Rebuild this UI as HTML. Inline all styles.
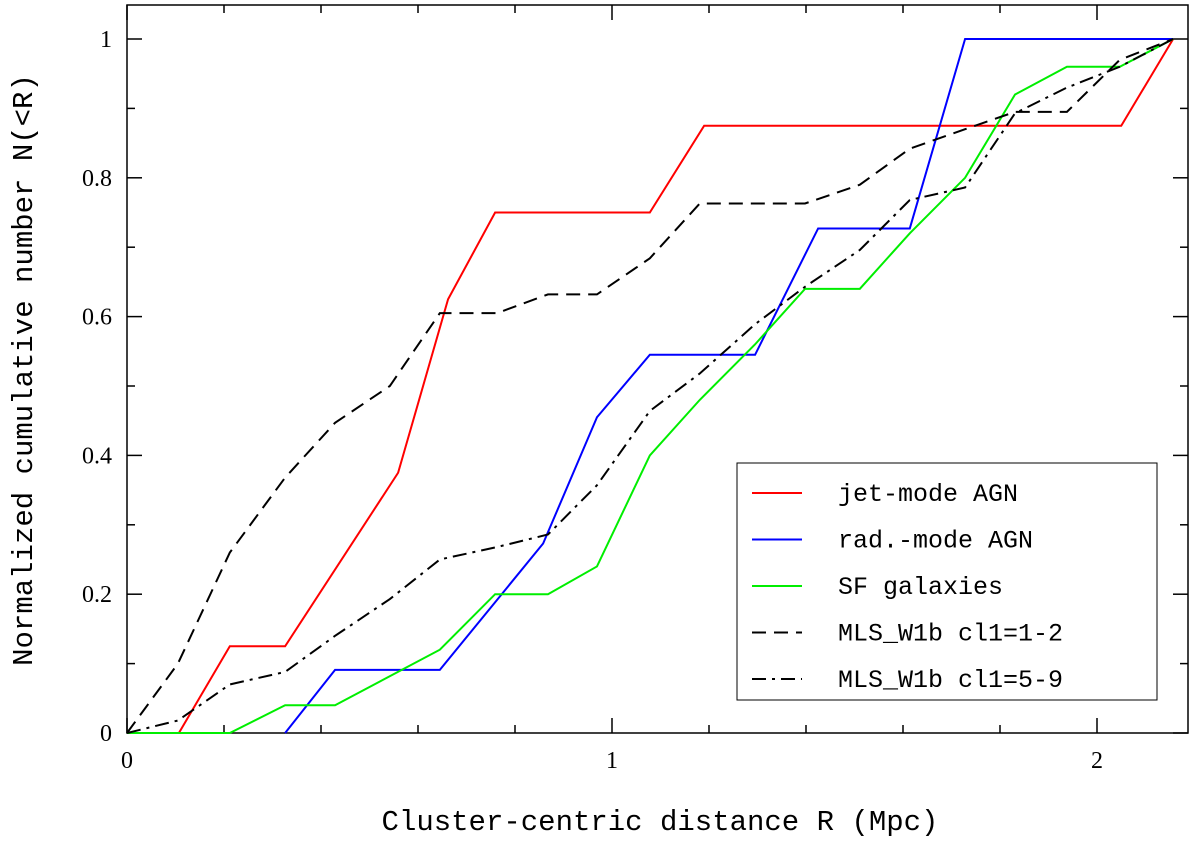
<!DOCTYPE html>
<html><head><meta charset="utf-8"><style>body{margin:0;background:#fff}svg{display:block}</style></head>
<body>
<svg id="chart" width="1200" height="844" xmlns="http://www.w3.org/2000/svg"></svg>
<script>
const xTicks=[0,1,2];
const yTicks=[0,0.2,0.4,0.6,0.8,1];
const yTickLabels=["0","0.2","0.4","0.6","0.8","1"];
const jetX=[0.107,0.212,0.326,0.559,0.662,0.759,1.078,1.19,2.05,2.157];
const jetY=[0,0.125,0.125,0.375,0.625,0.75,0.75,0.875,0.875,1];
const radX=[0.326,0.429,0.645,0.858,0.969,1.078,1.295,1.425,1.614,1.728,2.157];
const radY=[0,0.091,0.091,0.273,0.455,0.545,0.545,0.727,0.727,1,1];
const sfX=[0,0.212,0.326,0.429,0.645,0.759,0.868,0.969,1.078,1.181,1.295,1.398,1.511,1.614,1.728,1.831,1.938,2.047,2.157];
const sfY=[0,0,0.04,0.04,0.12,0.2,0.2,0.24,0.4,0.48,0.56,0.64,0.64,0.72,0.8,0.92,0.96,0.96,1];
const cl12X=[0,0.105,0.212,0.326,0.429,0.542,0.645,0.763,0.868,0.969,1.078,1.181,1.398,1.511,1.614,1.728,1.831,1.938,2.047,2.157];
const cl12Y=[0,0.10,0.26,0.368,0.447,0.5,0.605,0.605,0.632,0.632,0.684,0.763,0.763,0.79,0.842,0.87,0.895,0.895,0.97,1];
const cl59X=[0,0.105,0.212,0.326,0.429,0.542,0.645,0.763,0.868,0.969,1.078,1.181,1.295,1.398,1.511,1.614,1.728,1.831,1.938,2.047,2.157];
const cl59Y=[0,0.018,0.07,0.088,0.14,0.193,0.25,0.268,0.286,0.357,0.464,0.518,0.589,0.643,0.696,0.768,0.786,0.893,0.93,0.96,1];
const L=127,R=1188,T=5,B=733;
const sx=v=>127+v*485, sy=v=>733-v*694;
const svg=document.getElementById('chart');const NS='http://www.w3.org/2000/svg';
function mk(t,a,p){const e=document.createElementNS(NS,t);for(const k in a)e.setAttribute(k,a[k]);(p||svg).appendChild(e);return e;}
const frame=mk('rect',{x:L,y:T,width:R-L,height:B-T,fill:'none',stroke:'#000','stroke-width':1.5});


const tg=mk('g',{stroke:'#000','stroke-width':1.5});


for(let i=0;i<=21;i++){const v=i*0.1;const x=sx(v);const len=(i%10==0)?15:(i%2==0?8:0);if(!len)continue;mk('line',{x1:x,y1:B,x2:x,y2:B-len},tg);mk('line',{x1:x,y1:T,x2:x,y2:T+len},tg);}
for(let i=0;i<=10;i++){const y=sy(i*0.1);const len=i%2==0?15:8;mk('line',{x1:L,y1:y,x2:L+len,y2:y},tg);mk('line',{x1:R,y1:y,x2:R-len,y2:y},tg);}
xTicks.forEach(v=>{const t=mk('text',{x:sx(v),y:768,'text-anchor':'middle','font-family':'Liberation Serif, serif','font-size':24});t.textContent=v;

});
yTicks.forEach((v,i)=>{const t=mk('text',{x:112,y:sy(v)+8,'text-anchor':'end','font-family':'Liberation Serif, serif','font-size':24});t.textContent=yTickLabels[i];

});
const xt=mk('text',{x:660,y:830,'text-anchor':'middle','font-family':'Liberation Mono, monospace','font-size':29});xt.textContent='Cluster-centric distance R (Mpc)';


const yt=mk('text',{x:0,y:0,'text-anchor':'middle','font-family':'Liberation Mono, monospace','font-size':29,transform:'translate(32,370) rotate(-90)'});yt.textContent='Normalized cumulative number N(<R)';


const series=[[jetX,jetY,'#f00','none','series-jet-mode-agn'],[radX,radY,'#00f','none','series-rad-mode-agn'],[sfX,sfY,'#0e0','none','series-sf-galaxies'],[cl12X,cl12Y,'#000','14 8','series-cl1-1-2'],[cl59X,cl59Y,'#000','14 6 3 6','series-cl1-5-9']];
series.forEach(s=>{const p=mk('polyline',{points:s[0].map((x,i)=>sx(x)+','+sy(s[1][i])).join(' '),fill:'none',stroke:s[2],'stroke-width':2,'stroke-dasharray':s[3]});

});
const lg=mk('g',{});


mk('rect',{x:737,y:463,width:420,height:237,fill:'#fff',stroke:'#000','stroke-width':1},lg);
const labels=['jet-mode AGN','rad.-mode AGN','SF galaxies','MLS_W1b cl1=1-2','MLS_W1b cl1=5-9'];
labels.forEach((l,i)=>{const y=493+i*46.5;const e=mk('g',{},lg);


mk('line',{x1:752,y1:y,x2:802,y2:y,stroke:series[i][2],'stroke-width':2,'stroke-dasharray':series[i][3]},e);
const t=mk('text',{x:838,y:y+8,'font-family':'Liberation Mono, monospace','font-size':25},e);t.textContent=l;});
</script>
</body></html>
